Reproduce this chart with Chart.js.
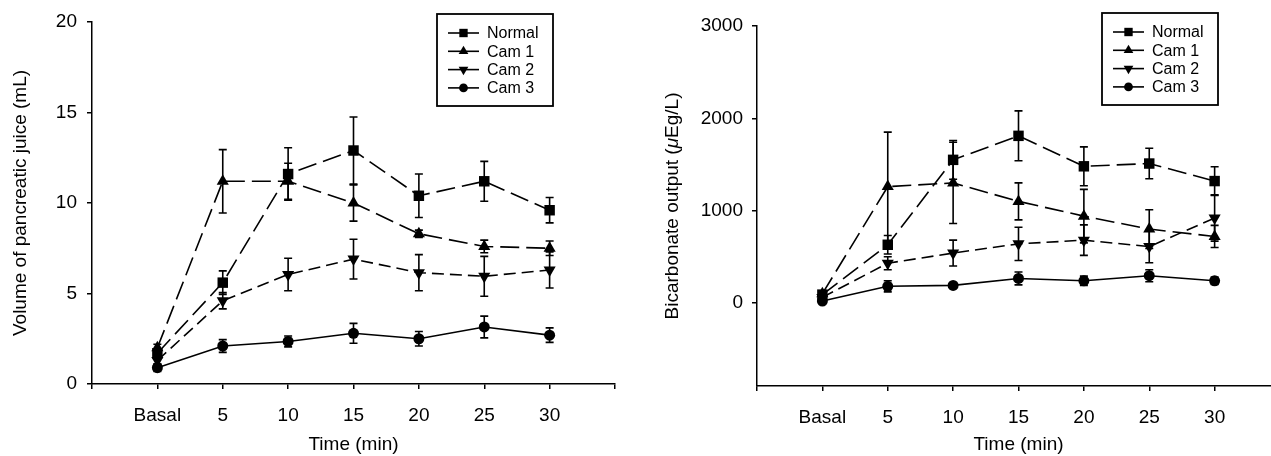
<!DOCTYPE html>
<html>
<head>
<meta charset="utf-8">
<script src="https://cdn.jsdelivr.net/npm/chart.js@4.4.1/dist/chart.umd.min.js"></script>
<style>
  html, body { margin:0; padding:0; background:#fff; overflow:hidden; }
  body { width:1271px; height:456px; position:relative; }
  #left { position:absolute; left:0; top:0; width:630px; height:456px; }
  #right { position:absolute; left:640px; top:0; width:660px; height:456px; }
</style>
</head>
<body>
<div id="left"><canvas id="volChart"></canvas></div>
<div id="right"><canvas id="bicChart"></canvas></div>
<script>
// --- Data ---
const categories = ['Basal', '5', '10', '15', '20', '25', '30'];
const seriesNames = ['Normal', 'Cam 1', 'Cam 2', 'Cam 3'];

// volume of pancreatic juice (mL), mean and error
const normalVol = [1.7, 5.6, 11.6, 12.9, 10.4, 11.2, 9.6];
const normalVolErr = [0.2, 0.65, 1.45, 1.85, 1.2, 1.1, 0.7];
const cam1Vol = [2.0, 11.2, 11.2, 10.0, 8.3, 7.6, 7.5];
const cam1VolErr = [0.2, 1.75, 1.0, 1.0, 0.2, 0.35, 0.4];
const cam2Vol = [1.3, 4.6, 6.05, 6.9, 6.15, 5.95, 6.3];
const cam2VolErr = [0.2, 0.45, 0.9, 1.1, 1.0, 1.1, 1.0];
const cam3Vol = [0.9, 2.1, 2.35, 2.8, 2.5, 3.15, 2.7];
const cam3VolErr = [0.2, 0.35, 0.3, 0.55, 0.4, 0.6, 0.4];
const volTicks = [0, 5, 10, 15, 20];

// bicarbonate output (uEg/L)
const normalBic = [90, 630, 1550, 1810, 1480, 1510, 1320];
const normalBicErr = [30, 100, 210, 270, 210, 165, 155];
const cam1Bic = [100, 1260, 1300, 1100, 940, 800, 720];
const cam1BicErr = [30, 590, 440, 200, 290, 210, 120];
const cam2Bic = [60, 430, 540, 640, 680, 610, 920];
const cam2BicErr = [30, 70, 140, 180, 165, 175, 250];
const cam3Bic = [20, 180, 190, 265, 240, 295, 240];
const cam3BicErr = [20, 60, 20, 70, 50, 65, 40];
const bicTicks = [0, 1000, 2000, 3000];

// --- Styles ---
const FONT = "'Liberation Sans', Arial, sans-serif";
const markers = [
    {pointStyle:'rect', radius:7.4, rotation:0, dash:[19,7]},
    {pointStyle:'triangle', radius:7, rotation:0, dash:[19,7]},
    {pointStyle:'triangle', radius:7, rotation:180, dash:[12,6]},
    {pointStyle:'circle', radius:5.5, rotation:0, dash:[]}
];

// error bars, drawn through the chart scales
const errorBars = {
    id: 'errorBars',
    beforeDatasetsDraw(chart) {
        const ctx = chart.ctx, xs = chart.scales.x, ys = chart.scales.y;
        ctx.save();
        ctx.strokeStyle = '#000'; ctx.lineWidth = 1.6; ctx.setLineDash([]);
        chart.data.datasets.forEach(ds => {
            ds.data.forEach((p, i) => {
                const e = ds.errors[i];
                const x = xs.getPixelForValue(p.x);
                const yt = ys.getPixelForValue(p.y + e), yb = ys.getPixelForValue(p.y - e);
                ctx.beginPath();
                ctx.moveTo(x, yt); ctx.lineTo(x, yb);
                ctx.moveTo(x-4, yt); ctx.lineTo(x+4, yt);
                ctx.moveTo(x-4, yb); ctx.lineTo(x+4, yb);
                ctx.stroke();
            });
        });
        ctx.restore();
    }
};

// boxed legend with line + marker samples
const boxLegend = {
    id: 'boxLegend',
    afterDraw(chart) {
        const ctx = chart.ctx, a = chart.chartArea;
        const x0 = a.right - 178, y0 = chart.options.plugins.boxLegend.top;
        ctx.save();
        ctx.fillStyle = '#fff';
        ctx.fillRect(x0, y0, 116, 92);
        ctx.strokeStyle = '#000'; ctx.lineWidth = 1.8;
        ctx.strokeRect(x0, y0, 116, 92);
        ctx.font = '16px ' + FONT;
        ctx.textBaseline = 'middle';
        seriesNames.forEach((name, i) => {
            const y = y0 + 19 + i * 18.3;
            ctx.strokeStyle = '#000'; ctx.lineWidth = 1.6;
            ctx.beginPath(); ctx.moveTo(x0+11, y); ctx.lineTo(x0+42, y); ctx.stroke();
            ctx.fillStyle = '#000';
            const m = markers[i];
            Chart.helpers.drawPoint(ctx, {pointStyle:m.pointStyle, radius:m.radius*0.8, rotation:m.rotation, borderWidth:0}, x0+26.5, y);
            ctx.fillText(name, x0+50, y + 1);
        });
        ctx.restore();
    }
};

// rotated y title with an italic mu
const richTitle = {
    id: 'richTitle',
    afterDraw(chart) {
        const o = chart.options.plugins.richTitle;
        if (!o.parts) return;
        const ctx = chart.ctx, a = chart.chartArea;
        ctx.save();
        ctx.translate(o.x, (a.top + a.bottom) / 2);
        ctx.rotate(-Math.PI/2);
        ctx.fillStyle = '#000';
        ctx.textBaseline = 'middle';
        const fonts = o.parts.map(p => (p.italic ? 'italic ' : '') + '19px ' + FONT);
        let total = 0;
        const widths = o.parts.map((p, i) => { ctx.font = fonts[i]; const w = ctx.measureText(p.t).width; total += w; return w; });
        let x = -total / 2;
        o.parts.forEach((p, i) => { ctx.font = fonts[i]; ctx.fillText(p.t, x, 0); x += widths[i]; });
        ctx.restore();
    }
};

function makeChart(id, values, errors, yMin, yMax, yTicks, lay) {
    const datasets = seriesNames.map((name, s) => ({
        label: name,
        data: values[s].map((v, i) => ({x: i, y: v})),
        errors: errors[s],
        borderColor: '#000', backgroundColor: '#000', borderWidth: 1.6,
        borderDash: markers[s].dash,
        pointStyle: markers[s].pointStyle, pointRadius: markers[s].radius,
        pointRotation: markers[s].rotation, pointBorderWidth: 0,
        pointBackgroundColor: '#000', tension: 0
    }));
    const axisGrid = {display:true, drawOnChartArea:false, drawTicks:true, tickLength:5, color:'#000', lineWidth:1.5};
    return new Chart(document.getElementById(id), {
        type: 'line',
        data: { datasets },
        plugins: [errorBars, boxLegend, richTitle],
        options: {
            responsive: true, maintainAspectRatio: false, animation: false,
            layout: { padding: {top: lay.top, right: lay.right, left: 0, bottom: 0} },
            plugins: {
                legend: {display:false}, tooltip: {enabled:false},
                boxLegend: {top: lay.legendTop},
                richTitle: {parts: lay.richTitle, x: lay.richX}
            },
            scales: {
                x: {
                    type: 'linear', min: -1, max: categories.length,
                    grid: axisGrid, border: {display:true, color:'#000', width:1.5},
                    afterBuildTicks: sc => { sc.ticks = []; for (let i = -1; i <= categories.length; i++) sc.ticks.push({value:i}); },
                    afterFit: sc => { sc.height = lay.xHeight; },
                    ticks: { autoSkip:false, maxRotation:0, padding:15, color:'#000', font:{family:FONT, size:19},
                             callback: v => categories[v] ?? '' },
                    title: { display:true, text:'Time (min)', color:'#000', font:{family:FONT, size:19}, padding:{top:0, bottom:0} }
                },
                y: {
                    min: yMin, max: yMax,
                    grid: axisGrid, border: {display:true, color:'#000', width:1.5},
                    afterBuildTicks: sc => { sc.ticks = yTicks.map(v => ({value:v})); },
                    afterFit: sc => { sc.width = lay.yWidth; },
                    ticks: { padding: lay.tickPad, color:'#000', font:{family:FONT, size:19}, callback: v => String(v) },
                    title: { display: !!lay.yTitle, text: lay.yTitle, color:'#000', font:{family:FONT, size:19}, padding:{top:9, bottom:0} }
                }
            }
        }
    });
}

window.onload = () => {
    makeChart('volChart',
        [normalVol, cam1Vol, cam2Vol, cam3Vol],
        [normalVolErr, cam1VolErr, cam2VolErr, cam3VolErr],
        0, 20, volTicks,
        {top:22, right:15, xHeight:72, yWidth:92, tickPad:10, legendTop:14,
         yTitle:'Volume of pancreatic juice (mL)'});
    makeChart('bicChart',
        [normalBic, cam1Bic, cam2Bic, cam3Bic],
        [normalBicErr, cam1BicErr, cam2BicErr, cam3BicErr],
        -900, 3000, bicTicks,
        {top:26, right:20, xHeight:70, yWidth:117, tickPad:9, legendTop:13,
         richTitle:[{t:'Bicarbonate output ('}, {t:'\u03bc', italic:true}, {t:'Eg/L)'}], richX:33});
};
</script>
</body>
</html>
